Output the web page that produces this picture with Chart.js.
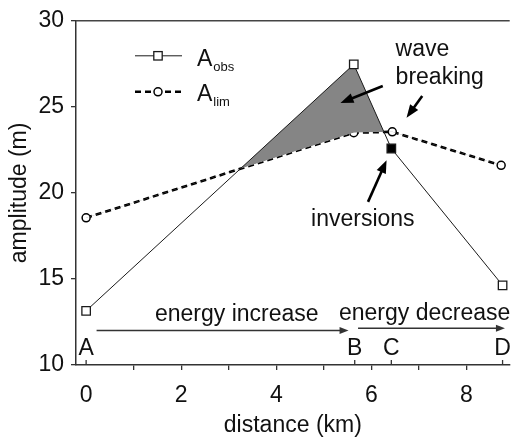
<!DOCTYPE html>
<html><head><meta charset="utf-8">
<script src="https://cdn.jsdelivr.net/npm/chart.js@4.4.0/dist/chart.umd.min.js"></script>
<style>html,body{margin:0;padding:0;background:#fff}#c{display:block}</style>
</head><body>
<canvas id="c" width="517" height="440"></canvas>
<script>
// ---- data ----
const obsDistance = [0, 5.63, 6.42, 8.76];
const obsAmplitude = [13.15, 27.47, 22.58, 14.63];
const obsInversion = [false, false, true, false];
const limDistance = [0, 5.63, 6.44, 8.73];
const limAmplitude = [18.55, 23.5, 23.55, 21.6];
const siteNames = ['A', 'B', 'C', 'D'];
const siteDistance = [0, 5.65, 6.42, 8.76];
const xTickValues = [0, 1, 2, 3, 4, 5, 6, 7, 8];
const yTickValues = [10, 15, 20, 25, 30];

const FONT = "'Liberation Sans', Arial, Helvetica, sans-serif";
const FS = 23;
Chart.defaults.font.family = FONT;
Chart.defaults.font.size = FS;
Chart.defaults.color = '#111';

function arrow(ctx, x1, y1, x2, y2, lw, hl, hw, color) {
  const a = Math.atan2(y2 - y1, x2 - x1);
  const bx = x2 - hl * Math.cos(a), by = y2 - hl * Math.sin(a);
  ctx.save();
  ctx.strokeStyle = color; ctx.fillStyle = color; ctx.lineWidth = lw;
  ctx.setLineDash([]);
  ctx.beginPath(); ctx.moveTo(x1, y1); ctx.lineTo(bx + Math.cos(a), by + Math.sin(a)); ctx.stroke();
  ctx.beginPath();
  ctx.moveTo(x2, y2);
  ctx.lineTo(bx + hw / 2 * Math.sin(a), by - hw / 2 * Math.cos(a));
  ctx.lineTo(bx - hw / 2 * Math.sin(a), by + hw / 2 * Math.cos(a));
  ctx.closePath(); ctx.fill();
  ctx.restore();
}

const annotationPlugin = {
  id: 'annot',
  afterDraw(chart) {
    const ctx = chart.ctx, xs = chart.scales.x, ys = chart.scales.y, ca = chart.chartArea;
    const X = v => xs.getPixelForValue(v), Y = v => ys.getPixelForValue(v);
    ctx.save();
    // top frame
    ctx.strokeStyle = '#444'; ctx.lineWidth = 1.5;
    ctx.beginPath(); ctx.moveTo(ca.left, ca.top); ctx.lineTo(ca.right, ca.top); ctx.stroke();
    // site ticks + letters
    ctx.strokeStyle = '#333'; ctx.lineWidth = 1.3;
    ctx.fillStyle = '#111'; ctx.font = FS + 'px ' + FONT; ctx.textAlign = 'center'; ctx.textBaseline = 'alphabetic';
    siteDistance.forEach((d, i) => {
      const px = X(d);
      ctx.beginPath(); ctx.moveTo(px, ca.bottom); ctx.lineTo(px, ca.bottom - 5); ctx.stroke();
      ctx.fillText(siteNames[i], px, Y(10.57));
    });
    // energy texts and arrows
    ctx.fillText('energy increase', X(3.17), Y(12.53));
    ctx.fillText('energy decrease', X(7.12), Y(12.59));
    arrow(ctx, X(0.22), Y(12.01), X(5.52), Y(12.01), 1.5, 9, 7, '#333');
    arrow(ctx, X(5.72), Y(12.13), X(8.81), Y(12.13), 1.5, 9, 7, '#333');
    // wave breaking
    ctx.textAlign = 'left';
    ctx.fillText('wave', X(6.51), Y(27.93));
    ctx.fillText('breaking', X(6.51), Y(26.32));
    arrow(ctx, X(6.24), Y(26.21), X(5.35), Y(25.23), 2.6, 13, 10, '#000');
    arrow(ctx, X(7.07), Y(25.63), X(6.74), Y(24.37), 2.6, 13, 10, '#000');
    // inversions
    ctx.textAlign = 'center';
    ctx.fillText('inversions', X(5.82), Y(18.1));
    arrow(ctx, X(5.93), Y(19.48), X(6.32), Y(21.9), 2.6, 13, 10, '#000');
    // legend
    const lx1 = ca.left + 59, lx2 = ca.left + 106, lm = ca.left + 82, tx = ca.left + 121;
    const ly1 = ca.top + 35, ly2 = ca.top + 71;
    ctx.strokeStyle = '#1a1a1a'; ctx.lineWidth = 1;
    ctx.beginPath(); ctx.moveTo(lx1, ly1); ctx.lineTo(lx2, ly1); ctx.stroke();
    ctx.fillStyle = '#fff'; ctx.lineWidth = 1.3;
    ctx.fillRect(lm - 4.2, ly1 - 4.2, 8.4, 8.4); ctx.strokeRect(lm - 4.2, ly1 - 4.2, 8.4, 8.4);
    ctx.strokeStyle = '#000'; ctx.lineWidth = 2.6; ctx.setLineDash([6, 4]);
    ctx.beginPath(); ctx.moveTo(lx1, ly2); ctx.lineTo(lx2, ly2); ctx.stroke();
    ctx.setLineDash([]); ctx.lineWidth = 1.5;
    ctx.beginPath(); ctx.arc(lm, ly2, 4, 0, Math.PI * 2); ctx.fill(); ctx.stroke();
    ctx.fillStyle = '#111'; ctx.textAlign = 'left';
    ctx.font = FS + 'px ' + FONT;
    ctx.fillText('A', tx, ly1 + 10);
    ctx.fillText('A', tx, ly2 + 9);
    const aw = ctx.measureText('A').width;
    ctx.font = '13px ' + FONT;
    ctx.fillText('obs', tx + aw + 1, ly1 + 15);
    ctx.fillText('lim', tx + aw + 1, ly2 + 14);
    ctx.restore();
  }
};

new Chart(document.getElementById('c'), {
  type: 'line',
  data: {
    datasets: [
      {
        label: 'Aobs',
        data: obsDistance.map((x, i) => ({ x, y: obsAmplitude[i] })),
        borderColor: '#1a1a1a', borderWidth: 1,
        pointStyle: 'rect', pointRadius: 6, pointBorderWidth: 1.3,
        pointBorderColor: '#1a1a1a',
        pointBackgroundColor: obsInversion.map(f => f ? '#000' : '#fff'),
        fill: { target: '+1', above: '#858585', below: 'rgba(0,0,0,0)' },
        tension: 0
      },
      {
        label: 'Alim',
        data: limDistance.map((x, i) => ({ x, y: limAmplitude[i] })),
        borderColor: '#000', borderWidth: 2.6, borderDash: [6, 4],
        pointStyle: 'circle', pointRadius: 4, pointBorderWidth: 1.5,
        pointBorderColor: '#000', pointBackgroundColor: '#fff',
        fill: false, tension: 0
      }
    ]
  },
  options: {
    responsive: false, animation: false, devicePixelRatio: 1,
    layout: { padding: { top: 17, right: 0, left: 0, bottom: 0 } },
    plugins: { legend: { display: false }, tooltip: { enabled: false } },
    scales: {
      x: {
        type: 'linear', min: -0.213, max: 8.91,
        afterBuildTicks: s => { s.ticks = xTickValues.map(v => ({ value: v })); },
        afterFit: s => { s.height = 75; },
        ticks: { callback: v => (v % 2 === 0 ? String(v) : ''), padding: 12, maxRotation: 0, autoSkip: false, color: '#111' },
        grid: { drawOnChartArea: false, tickLength: 5, lineWidth: 1.3,
                color: c => (c.tick && c.tick.value === 0 ? 'rgba(0,0,0,0)' : '#333') },
        border: { color: '#333', width: 1.5 },
        title: { display: true, text: 'distance (km)', color: '#111', padding: { top: 0, bottom: 1 } }
      },
      y: {
        min: 10, max: 30,
        afterBuildTicks: s => { s.ticks = yTickValues.map(v => ({ value: v })); },
        afterFit: s => { s.width = 76; },
        ticks: { padding: 7, color: '#111' },
        grid: { drawOnChartArea: false, tickLength: 5, lineWidth: 1.3, color: '#333' },
        border: { color: '#333', width: 1.5 },
        title: { display: true, text: 'amplitude (m)', color: '#111', padding: { top: 6, bottom: 0 } }
      }
    }
  },
  plugins: [annotationPlugin]
});
</script>
</body></html>
